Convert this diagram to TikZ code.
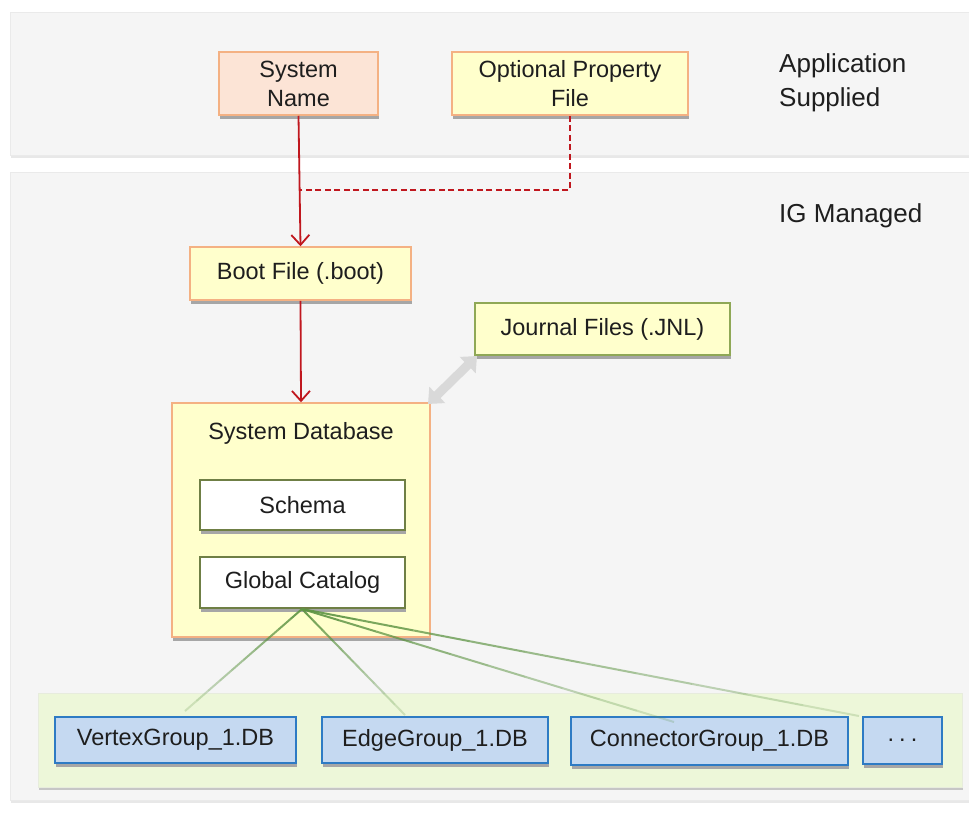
\documentclass[tikz,border=0pt]{standalone}
\usepackage{fontspec}
\setmainfont{Liberation Sans}
\usetikzlibrary{arrows.meta,shadows,positioning,calc}
\definecolor{panelfill}{HTML}{F5F5F5}
\definecolor{panelline}{HTML}{EAEAEA}
\definecolor{peach}{HTML}{FCE4D6}
\definecolor{orangeline}{HTML}{F4B183}
\definecolor{lightyellow}{HTML}{FFFFCC}
\definecolor{olive}{HTML}{8FA856}
\definecolor{darkolive}{HTML}{6F7F45}
\definecolor{redline}{HTML}{C0171E}
\definecolor{greenline}{HTML}{5E9444}
\definecolor{greenpanel}{HTML}{EDF7D9}
\definecolor{bluefill}{HTML}{C5D9F1}
\definecolor{blueline}{HTML}{2E7BC4}
\definecolor{textdark}{HTML}{1E1E1E}
\tikzset{
  panel/.style={draw=panelline, fill=panelfill, line width=0.8pt,
    drop shadow={shadow xshift=1pt, shadow yshift=-3pt, fill=gray!18, opacity=1}},
  box/.style={draw=orangeline, fill=lightyellow, line width=1.5pt, text=textdark,
    font=\fontsize{23.5}{29}\selectfont, align=center, inner sep=0pt,
    drop shadow={shadow xshift=1pt, shadow yshift=-3.5pt, fill=gray!70, opacity=1}},
  peachbox/.style={box, fill=peach},
  jnlbox/.style={box, draw=olive},
  innerbox/.style={box, fill=white, draw=darkolive},
  dbbox/.style={box, fill=bluefill, draw=blueline},
  redarrow/.style={draw=redline, line width=1.8pt, -{Straight Barb[length=10pt,width=18pt,line width=1.8pt]}},
  reddash/.style={draw=redline, line width=1.5pt, dash pattern=on 6pt off 3.5pt},
  glink/.style={draw=greenline, line width=2pt},
  plain/.style={text=textdark, font=\fontsize{26}{34}\selectfont, align=left, inner sep=0pt}
}
\begin{document}
\begin{tikzpicture}[x=1pt,y=-1pt]
\useasboundingbox (0,0) rectangle (969,812);
\path[fill=white] (0,0) rectangle (969,812);
% panels
\node[panel, minimum width=980, minimum height=143, inner sep=0pt, anchor=north west] (toppanel) at (10,12) {};
\node[panel, minimum width=980, minimum height=628, inner sep=0pt, anchor=north west] (botpanel) at (10,172) {};
% labels
\node[plain, anchor=north west] (appl) at (779,53) {Application\\Supplied};
\node[plain, anchor=west] (igm) at (779,216) {IG Managed};
% top boxes
\node[peachbox, minimum width=159, minimum height=63] (sysname) at (298.5,83.5) {System\\Name};
\node[box, minimum width=236, minimum height=63] (optprop) at (570,83.5) {Optional Property\\File};
% boot
\node[box, minimum width=221, minimum height=53] (boot) at (300.5,273.5) {Boot File (.boot)};
% journal
\node[jnlbox, minimum width=255, minimum height=52] (jnl) at (602.5,329) {Journal Files (.JNL)};
% system database
\node[box, minimum width=258, minimum height=234] (sysdb) at (301,520) {};
\node[plain, anchor=center, font=\fontsize{23.5}{29}\selectfont] (sysdbl) at (301,433) {System Database};
\node[innerbox, minimum width=205, minimum height=50] (schema) at (302.5,505) {Schema};
\node[innerbox, minimum width=205, minimum height=51] (gcat) at (302.5,582.5) {Global Catalog};
% lower green panel
\node[draw=greenpanel!80!gray!60, fill=greenpanel, line width=0.6pt, minimum width=924, minimum height=94, inner sep=0pt,
  drop shadow={shadow xshift=1pt, shadow yshift=-3pt, fill=gray!45, opacity=1}] (grpanel) at (500,740) {};
% arrows
\draw[redarrow] (sysname.south) -- (boot.north);
\coordinate (dashcorner) at (570,190);
\coordinate (dashjoin) at (300,190);
\draw[reddash] (optprop.south) -- (dashcorner) -- (dashjoin);
\draw[redarrow] (boot.south) -- (sysdb.north);
\coordinate (ga) at (428,404);
\coordinate (gb) at (477,356);
\draw[line width=9pt, draw=gray!30, {Triangle[length=13pt,width=22pt]}-{Triangle[length=13pt,width=22pt]}] (ga) -- (gb);
% db boxes
\node[dbbox, minimum width=241, minimum height=46] (vg) at (175.5,740) {VertexGroup\_1.DB};
\node[dbbox, minimum width=226, minimum height=46] (eg) at (435,740) {EdgeGroup\_1.DB};
\node[dbbox, minimum width=277, minimum height=48] (cg) at (709.5,741) {ConnectorGroup\_1.DB};
\node[dbbox, minimum width=79, minimum height=47] (more) at (902.5,740.5) {.\hspace{5pt}.\hspace{5pt}.};
% green links (fading towards the lower boxes)
\coordinate (gsrc) at (302,609);
\coordinate (ta) at (185,711);
\coordinate (tb) at (405,715);
\coordinate (tc) at (674,722);
\coordinate (td) at (859,716);
\foreach \t in {ta,tb,tc,td}{
  \foreach \i in {0,...,9}{
    \pgfmathsetmacro{\op}{0.9-0.075*\i}
    \pgfmathsetmacro{\a}{\i/10}
    \pgfmathsetmacro{\b}{(\i+1)/10}
    \draw[glink, draw opacity=\op] ($(gsrc)!\a!(\t)$) -- ($(gsrc)!\b!(\t)$);
  }
}
\end{tikzpicture}
\end{document}
